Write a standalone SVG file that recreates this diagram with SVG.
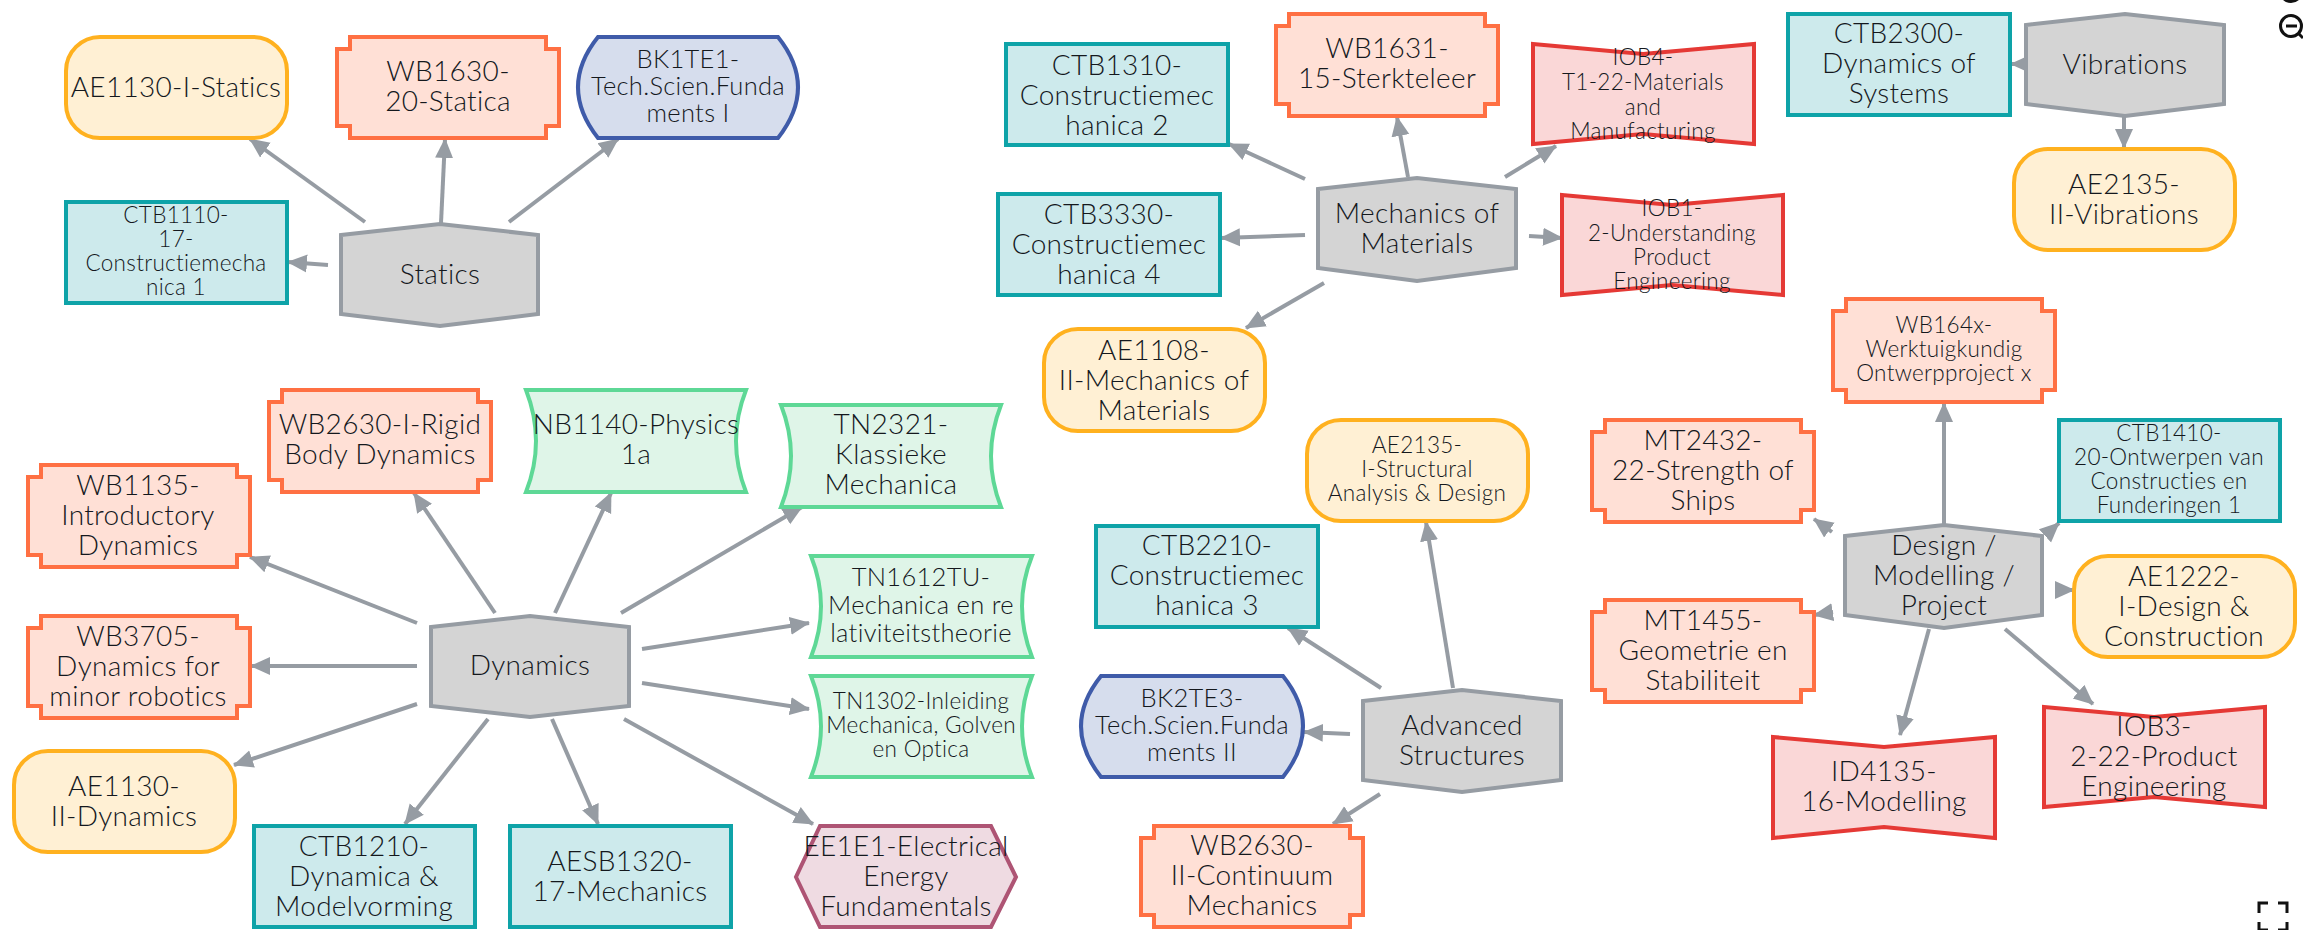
<svg xmlns="http://www.w3.org/2000/svg" width="2303" height="930" viewBox="0 0 2303 930">
<style>
text{font-family:"Lato","Liberation Sans",sans-serif;font-weight:300;fill:#14181d;text-anchor:middle;letter-spacing:.3px}
.l{font-size:28px}.m{font-size:25.5px}.s{font-size:22.5px}
.n{stroke-width:4;stroke-linejoin:miter}
.ae{fill:#fff0d4;stroke:#ffb11f}.wb{fill:#ffe0d6;stroke:#ff7043}.ct{fill:#cdeaec;stroke:#0ea3a8}
.bk{fill:#d6dded;stroke:#3f5ba9}.tn{fill:#dff5e8;stroke:#5ed896}.io{fill:#fad7d7;stroke:#e53935}
.hx{fill:#d4d4d4;stroke:#969ca3}.ee{fill:#efdbe2;stroke:#ae5474}
#edges line{stroke:#969ca3;stroke-width:4;marker-end:url(#ah)}
.ic{fill:none;stroke:#111;stroke-width:3}
</style>
<defs><marker id="ah" markerUnits="userSpaceOnUse" markerWidth="22" markerHeight="20" refX="19" refY="10" orient="auto"><path d="M0 1L20 10L0 19Z" fill="#969ca3"/></marker></defs>
<rect width="2303" height="930" fill="#fff"/>
<g id="edges">
<line x1="365" y1="222" x2="250" y2="139"/><line x1="441" y1="223" x2="445" y2="139"/><line x1="509" y1="222" x2="618" y2="139"/><line x1="328" y1="265" x2="288" y2="262"/>
<line x1="1305" y1="179" x2="1229" y2="144"/><line x1="1408" y1="177" x2="1397" y2="117"/><line x1="1505" y1="177" x2="1556" y2="146"/><line x1="1305" y1="235" x2="1221" y2="238"/><line x1="1529" y1="236" x2="1562" y2="238"/><line x1="1324" y1="283" x2="1246" y2="328"/>
<line x1="2030" y1="64" x2="2011" y2="64"/><line x1="2124" y1="116" x2="2124" y2="148"/>
<line x1="495" y1="613" x2="414" y2="493"/><line x1="555" y1="613" x2="611" y2="493"/><line x1="621" y1="613" x2="802" y2="507"/><line x1="642" y1="649" x2="809" y2="623"/><line x1="642" y1="683" x2="809" y2="709"/><line x1="624" y1="719" x2="813" y2="824"/><line x1="552" y1="719" x2="598" y2="824"/><line x1="488" y1="719" x2="405" y2="824"/><line x1="417" y1="704" x2="234" y2="765"/><line x1="417" y1="666" x2="251" y2="666"/><line x1="417" y1="623" x2="250" y2="557"/>
<line x1="1453" y1="688" x2="1426" y2="522"/><line x1="1381" y1="688" x2="1288" y2="628"/><line x1="1350" y1="734" x2="1304" y2="732"/><line x1="1380" y1="794" x2="1333" y2="824"/>
<line x1="1944" y1="524" x2="1944" y2="403"/><line x1="1832" y1="532" x2="1814" y2="519"/><line x1="2047" y1="534" x2="2059" y2="523"/><line x1="2056" y1="590" x2="2074" y2="590"/><line x1="1833" y1="612" x2="1814" y2="615"/><line x1="1929" y1="629" x2="1900" y2="735"/><line x1="2005" y1="629" x2="2093" y2="704"/>
</g>
<g id="statics"><path class="n hx" d="M341 235L440 224L538 235V314L440 326L341 314Z"/><text class="l" x="440" y="284">Statics</text></g>
<g id="ae1130-i"><rect class="n ae" x="66" y="37" width="221" height="101" rx="34"/><text class="l" x="176" y="97">AE1130-I-Statics</text></g>
<g id="wb1630"><path class="n wb" d="M350 37H546V49H559V126H546V138H350V126H337V49H350Z"/><text class="l" x="448" y="81">WB1630-</text><text class="l" x="448" y="111">20-Statica</text></g>
<g id="bk1te1"><path class="n bk" d="M598 37H778Q818 87 778 138H598Q558 87 598 37Z"/><text class="m" x="688" y="68">BK1TE1-</text><text class="m" x="688" y="95">Tech.Scien.Funda</text><text class="m" x="688" y="122">ments I</text></g>
<g id="ctb1110"><rect class="n ct" x="66" y="202" width="221" height="101"/><text class="s" x="176" y="223">CTB1110-</text><text class="s" x="176" y="247">17-</text><text class="s" x="176" y="271">Constructiemecha</text><text class="s" x="176" y="295">nica 1</text></g>

<g id="mechanics"><path class="n hx" d="M1318 189L1417 178L1516 189V268L1417 281L1318 268Z"/><text class="l" x="1417" y="223">Mechanics of</text><text class="l" x="1417" y="253">Materials</text></g>
<g id="wb1631"><path class="n wb" d="M1289 14H1485V26H1498V104H1485V116H1289V104H1276V26H1289Z"/><text class="l" x="1387" y="58">WB1631-</text><text class="l" x="1387" y="88">15-Sterkteleer</text></g>
<g id="ctb1310"><rect class="n ct" x="1006" y="44" width="222" height="101"/><text class="l" x="1117" y="75">CTB1310-</text><text class="l" x="1117" y="105">Constructiemec</text><text class="l" x="1117" y="135">hanica 2</text></g>
<g id="iob4"><path class="n io" d="M1533 44L1643 54L1754 44V144L1643 134L1533 144Z"/><text class="s" x="1643" y="65">IOB4-</text><text class="s" x="1643" y="90">T1-22-Materials</text><text class="s" x="1643" y="115">and</text><text class="s" x="1643" y="139">Manufacturing</text></g>
<g id="ctb3330"><rect class="n ct" x="998" y="194" width="222" height="101"/><text class="l" x="1109" y="224">CTB3330-</text><text class="l" x="1109" y="254">Constructiemec</text><text class="l" x="1109" y="284">hanica 4</text></g>
<g id="iob1"><path class="n io" d="M1562 195L1672 205L1783 195V295L1672 285L1562 295Z"/><text class="s" x="1672" y="216">IOB1-</text><text class="s" x="1672" y="241">2-Understanding</text><text class="s" x="1672" y="265">Product</text><text class="s" x="1672" y="289">Engineering</text></g>
<g id="ae1108"><rect class="n ae" x="1044" y="329" width="221" height="102" rx="34"/><text class="l" x="1154" y="360">AE1108-</text><text class="l" x="1154" y="390">II-Mechanics of</text><text class="l" x="1154" y="420">Materials</text></g>

<g id="vibrations"><path class="n hx" d="M2026 25L2125 14L2224 25V104L2125 116L2026 104Z"/><text class="l" x="2125" y="74">Vibrations</text></g>
<g id="ctb2300"><rect class="n ct" x="1788" y="14" width="222" height="101"/><text class="l" x="1899" y="43">CTB2300-</text><text class="l" x="1899" y="73">Dynamics of</text><text class="l" x="1899" y="103">Systems</text></g>
<g id="ae2135-ii"><rect class="n ae" x="2014" y="149" width="221" height="101" rx="34"/><text class="l" x="2124" y="194">AE2135-</text><text class="l" x="2124" y="224">II-Vibrations</text></g>

<g id="dynamics"><path class="n hx" d="M431 627L530 616L629 627V706L530 717L431 706Z"/><text class="l" x="530" y="675">Dynamics</text></g>
<g id="wb2630-i"><path class="n wb" d="M282 390H478V402H491V480H478V492H282V480H269V402H282Z"/><text class="l" x="380" y="434">WB2630-I-Rigid</text><text class="l" x="380" y="464">Body Dynamics</text></g>
<g id="nb1140"><path class="n tn" d="M526 390H746Q726 441 746 492H526Q546 441 526 390Z"/><text class="l" x="636" y="434">NB1140-Physics</text><text class="l" x="636" y="464">1a</text></g>
<g id="tn2321"><path class="n tn" d="M781 405H1001Q981 456 1001 507H781Q801 456 781 405Z"/><text class="l" x="891" y="434">TN2321-</text><text class="l" x="891" y="464">Klassieke</text><text class="l" x="891" y="494">Mechanica</text></g>
<g id="wb1135"><path class="n wb" d="M41 465H237V477H250V555H237V567H41V555H28V477H41Z"/><text class="l" x="138" y="495">WB1135-</text><text class="l" x="138" y="525">Introductory</text><text class="l" x="138" y="555">Dynamics</text></g>
<g id="tn1612"><path class="n tn" d="M811 556H1032Q1012 606 1032 657H811Q831 606 811 556Z"/><text class="m" x="921" y="586">TN1612TU-</text><text class="m" x="921" y="614">Mechanica en re</text><text class="m" x="921" y="642">lativiteitstheorie</text></g>
<g id="wb3705"><path class="n wb" d="M41 616H237V628H250V706H237V718H41V706H28V628H41Z"/><text class="l" x="138" y="646">WB3705-</text><text class="l" x="138" y="676">Dynamics for</text><text class="l" x="138" y="706">minor robotics</text></g>
<g id="tn1302"><path class="n tn" d="M811 676H1032Q1012 726 1032 777H811Q831 726 811 676Z"/><text class="s" x="921" y="709">TN1302-Inleiding</text><text class="s" x="921" y="733">Mechanica, Golven</text><text class="s" x="921" y="757">en Optica</text></g>
<g id="ae1130-ii"><rect class="n ae" x="14" y="751" width="221" height="101" rx="34"/><text class="l" x="124" y="796">AE1130-</text><text class="l" x="124" y="826">II-Dynamics</text></g>
<g id="ctb1210"><rect class="n ct" x="254" y="826" width="221" height="101"/><text class="l" x="364" y="856">CTB1210-</text><text class="l" x="364" y="886">Dynamica &amp;</text><text class="l" x="364" y="916">Modelvorming</text></g>
<g id="aesb1320"><rect class="n ct" x="510" y="826" width="221" height="101"/><text class="l" x="620" y="871">AESB1320-</text><text class="l" x="620" y="901">17-Mechanics</text></g>
<g id="ee1e1"><path class="n ee" d="M820 826H991L1016 877L991 927H820L796 877Z"/><text class="l" x="906" y="856">EE1E1-Electrical</text><text class="l" x="906" y="886">Energy</text><text class="l" x="906" y="916">Fundamentals</text></g>

<g id="advanced"><path class="n hx" d="M1363 701L1462 690L1561 701V780L1462 792L1363 780Z"/><text class="l" x="1462" y="735">Advanced</text><text class="l" x="1462" y="765">Structures</text></g>
<g id="ae2135-i"><rect class="n ae" x="1307" y="420" width="221" height="101" rx="34"/><text class="s" x="1417" y="453">AE2135-</text><text class="s" x="1417" y="477">I-Structural</text><text class="s" x="1417" y="501">Analysis &amp; Design</text></g>
<g id="ctb2210"><rect class="n ct" x="1096" y="526" width="222" height="101"/><text class="l" x="1207" y="555">CTB2210-</text><text class="l" x="1207" y="585">Constructiemec</text><text class="l" x="1207" y="615">hanica 3</text></g>
<g id="bk2te3"><path class="n bk" d="M1101 676H1283Q1323 726 1283 777H1101Q1061 726 1101 676Z"/><text class="m" x="1192" y="707">BK2TE3-</text><text class="m" x="1192" y="734">Tech.Scien.Funda</text><text class="m" x="1192" y="761">ments II</text></g>
<g id="wb2630-ii"><path class="n wb" d="M1154 826H1350V838H1363V915H1350V927H1154V915H1141V838H1154Z"/><text class="l" x="1252" y="855">WB2630-</text><text class="l" x="1252" y="885">II-Continuum</text><text class="l" x="1252" y="915">Mechanics</text></g>

<g id="design"><path class="n hx" d="M1845 536L1944 525L2042 536V615L1944 628L1845 615Z"/><text class="l" x="1944" y="555">Design /</text><text class="l" x="1944" y="585">Modelling /</text><text class="l" x="1944" y="615">Project</text></g>
<g id="wb164x"><path class="n wb" d="M1846 299H2042V311H2055V390H2042V402H1846V390H1833V311H1846Z"/><text class="s" x="1944" y="333">WB164x-</text><text class="s" x="1944" y="357">Werktuigkundig</text><text class="s" x="1944" y="381">Ontwerpproject x</text></g>
<g id="mt2432"><path class="n wb" d="M1605 420H1801V432H1814V510H1801V522H1605V510H1592V432H1605Z"/><text class="l" x="1703" y="450">MT2432-</text><text class="l" x="1703" y="480">22-Strength of</text><text class="l" x="1703" y="510">Ships</text></g>
<g id="ctb1410"><rect class="n ct" x="2059" y="420" width="221" height="101"/><text class="s" x="2169" y="441">CTB1410-</text><text class="s" x="2169" y="465">20-Ontwerpen van</text><text class="s" x="2169" y="489">Constructies en</text><text class="s" x="2169" y="513">Funderingen 1</text></g>
<g id="ae1222"><rect class="n ae" x="2074" y="556" width="221" height="101" rx="34"/><text class="l" x="2184" y="586">AE1222-</text><text class="l" x="2184" y="616">I-Design &amp;</text><text class="l" x="2184" y="646">Construction</text></g>
<g id="mt1455"><path class="n wb" d="M1605 600H1801V612H1814V690H1801V702H1605V690H1592V612H1605Z"/><text class="l" x="1703" y="630">MT1455-</text><text class="l" x="1703" y="660">Geometrie en</text><text class="l" x="1703" y="690">Stabiliteit</text></g>
<g id="id4135"><path class="n io" d="M1773 737L1884 747L1995 737V838L1884 827L1773 838Z"/><text class="l" x="1884" y="781">ID4135-</text><text class="l" x="1884" y="811">16-Modelling</text></g>
<g id="iob3"><path class="n io" d="M2044 707L2154 717L2265 707V807L2154 797L2044 807Z"/><text class="l" x="2154" y="736">IOB3-</text><text class="l" x="2154" y="766">2-22-Product</text><text class="l" x="2154" y="796">Engineering</text></g>

<g id="controls"><circle class="ic" cx="2291" cy="-9" r="10.5"/><circle class="ic" cx="2291" cy="26" r="10.5"/><path class="ic" d="M2286 26H2297M2299 34L2303 38"/><path class="ic" d="M2259 913V903H2268M2278 903H2287V913M2259 922V930H2268M2287 922V930H2278"/></g>
</svg>
